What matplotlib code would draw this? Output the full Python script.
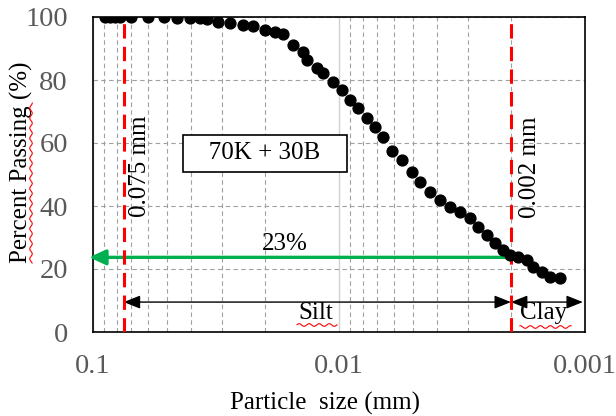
import matplotlib.pyplot as plt
from matplotlib.ticker import FixedLocator, NullFormatter
import numpy as np

# grain size distribution, 70K + 30B
size_mm = [0.0894, 0.0853, 0.0814, 0.0777, 0.0701, 0.0598, 0.0514, 0.0455,
           0.0403, 0.0367, 0.0344, 0.0310, 0.0277, 0.0246, 0.0224, 0.0200,
           0.0182, 0.0169, 0.0154, 0.0140, 0.0135, 0.0123, 0.0116, 0.01057,
           0.00972, 0.00902, 0.00837, 0.00770, 0.00714, 0.00662, 0.00609,
           0.00554, 0.00505, 0.00469, 0.00427, 0.00389, 0.00354, 0.00322,
           0.00293, 0.00272, 0.00250, 0.00232, 0.00215, 0.00202, 0.00187,
           0.00172, 0.00163, 0.00150, 0.00139, 0.00126]
passing = [100, 100, 100, 100, 100, 100, 100, 99.8, 99.7, 99.6, 99.5,
           98.4, 98.1, 97.5, 97.1, 95.9, 95.2, 94.5, 91.1, 88.9, 86.3, 83.8,
           82.2, 79.4, 76.8, 73.7, 71.1, 67.9, 65.1, 61.9, 57.6, 54.5, 50.8,
           47.6, 44.4, 41.9, 39.7, 38.1, 36.2, 33.3, 30.8, 28.3, 26.0, 24.4,
           23.8, 22.9, 20.6, 19.0, 17.5, 17.1]

silt_limit = 0.075
clay_limit = 0.002
d_at_clay = 23.7

plt.rcParams['font.family'] = ['Liberation Serif', 'DejaVu Serif']

W, H = 616, 416
fig = plt.figure(figsize=(W / 100, H / 100), dpi=100)
ax = fig.add_axes([93 / W, 1 - 332 / H, 492 / W, 315 / H])

ax.set_xscale('log')
ax.set_xlim(0.1, 0.001)
ax.set_ylim(0, 100)

# grid
ax.xaxis.set_major_locator(FixedLocator([0.1, 0.01, 0.001]))
ax.xaxis.set_minor_locator(FixedLocator([k * 0.01 for k in range(2, 10)] +
                                        [k * 0.001 for k in range(2, 10)]))
ax.xaxis.set_minor_formatter(NullFormatter())
ax.set_xticks([0.1, 0.01, 0.001])
ax.set_xticklabels(['0.1', '0.01', '0.001'])
ax.set_yticks([0, 20, 40, 60, 80, 100])
ax.grid(True, which='minor', axis='x', color='#a0a0a0', ls=(0, (4, 3)), lw=0.8)
ax.grid(True, which='major', axis='x', color='#d0d0d0', ls='-', lw=1.0)
ax.grid(True, which='major', axis='y', color='#a0a0a0', ls=(0, (4, 3)), lw=0.8)
ax.tick_params(which='both', length=0)
ax.tick_params(axis='y', pad=18, labelsize=20.5, labelcolor='#595959')
ax.tick_params(axis='x', pad=16, labelsize=20.5, labelcolor='#595959')
for s in ax.spines.values():
    s.set_linewidth(1.2)
    s.set_color('black')

ax.plot(size_mm, passing, 'o', color='black', ms=7.8, zorder=5)

# boundaries
for lim in (silt_limit, clay_limit):
    ax.axvline(lim, color='#ff0000', lw=2.2, ls=(0, (4.7, 2.7)), zorder=4)

ax.text(0.0644, 52.7, '0.075 mm', rotation=90, fontsize=18,
        ha='center', va='center')
ax.text(0.00167, 52.3, '0.002 mm', rotation=90, fontsize=18,
        ha='center', va='center')

ax.text(0.02, 56.8, '   70K + 30B   ', fontsize=18, ha='center', va='center',
        bbox=dict(boxstyle='square,pad=0.3', fc='white', ec='black', lw=1.2))

# 23 % arrow
ax.annotate('', xy=(0.1037, d_at_clay), xytext=(clay_limit, d_at_clay),
            arrowprops=dict(arrowstyle='-|>,head_length=0.5,head_width=0.23',
                            color='#00b050', lw=2.4, mutation_scale=20,
                            shrinkA=0, shrinkB=0),
            annotation_clip=False, zorder=3)
ax.text(0.0166, 27.9, '23%', fontsize=18, ha='center', va='center')

# silt / clay ranges
arrow_kw = dict(arrowstyle='<|-|>,head_length=0.5,head_width=0.2',
                color='black', lw=1.0, mutation_scale=20, shrinkA=0, shrinkB=0)
ax.annotate('', xy=(silt_limit, 9.5), xytext=(clay_limit, 9.5),
            arrowprops=arrow_kw)
ax.annotate('', xy=(clay_limit, 9.5), xytext=(0.00102, 9.5),
            arrowprops=arrow_kw)
ax.text(0.0124, 6.0, 'Silt', fontsize=18, ha='center', va='center')
ax.text(0.00148, 6.0, 'Clay', fontsize=18, ha='center', va='center')

ax.set_xlabel('Particle  size (mm)', fontsize=18)
ax.xaxis.set_label_coords(0.472, -0.19)
ax.set_ylabel('Percent Passing (%)', fontsize=18)
ax.yaxis.set_label_coords(-0.122, 0.54)


# red spell-check squiggles (figure pixels)
def squiggle(x0, x1, y0, vertical=False):
    t = np.linspace(0, 1, 120)
    along = x0 + (x1 - x0) * t
    wave = y0 + 1.3 * np.sin(along / 1.6)
    if vertical:
        xs, ys = wave, along
    else:
        xs, ys = along, wave
    fig.add_artist(plt.Line2D(xs / W, 1 - ys / H, color='#ff0000', lw=0.8,
                              transform=fig.transFigure))


squiggle(297, 337, 325)
squiggle(520, 571, 327)
squiggle(103, 263, 31, vertical=True)

fig.savefig('out.png', dpi=100)
